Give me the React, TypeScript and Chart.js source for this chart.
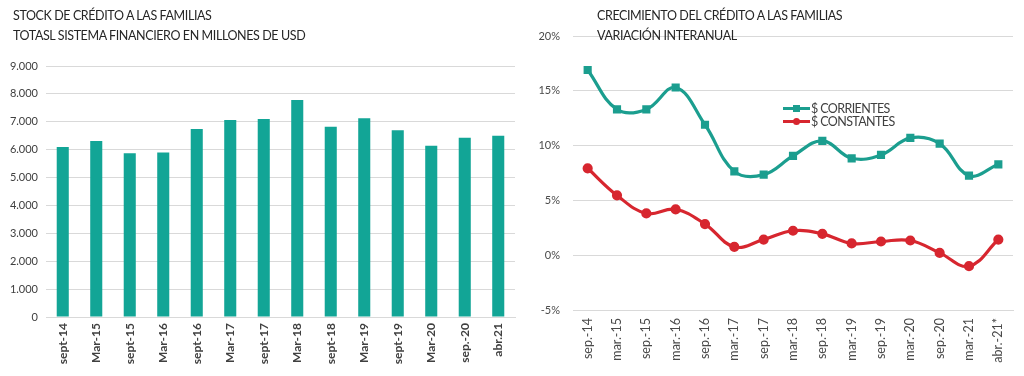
import React, { useEffect, useRef } from "react";
import { Chart, registerables } from "chart.js";

Chart.register(...registerables);

const stockLabels = ["sept-14", "Mar-15", "sept-15", "Mar-16", "sept-16", "Mar-17", "sept-17", "Mar-18", "sept-18", "Mar-19", "sept-19", "Mar-20", "sep.-20", "abr.21"];
const stockValues = [6100, 6310, 5870, 5900, 6740, 7060, 7100, 7780, 6820, 7130, 6700, 6140, 6430, 6500];

const growthLabels = ["sep.-14", "mar.-15", "sep.-15", "mar.-16", "sep.-16", "mar.-17", "sep.-17", "mar.-18", "sep.-18", "mar.-19", "sep.-19", "mar.-20", "sep.-20", "mar.-21", "abr.-21*"];
const corrientes = [16.9, 13.3, 13.3, 15.3, 11.9, 7.65, 7.35, 9.06, 10.43, 8.84, 9.15, 10.7, 10.18, 7.26, 8.29];
const constantes = [7.93, 5.46, 3.81, 4.18, 2.84, 0.76, 1.43, 2.23, 1.95, 1.07, 1.25, 1.34, 0.21, -1.0, 1.43];

const leftTitle = ["STOCK DE CRÉDITO A LAS FAMILIAS", "TOTASL SISTEMA FINANCIERO EN MILLONES DE USD"];
const rightTitle = ["CRECIMIENTO DEL CRÉDITO A LAS FAMILIAS", "VARIACIÓN INTERANUAL"];
const legendNames = ["$ CORRIENTES", "$ CONSTANTES"];

const TEAL_BAR = "#12a596";
const TEAL = "#1b9e8f";
const RED = "#d7262f";
const GRID = "#d9d9d9";
const FONT = "Lato, 'Open Sans', sans-serif";

function fmtThousands(v: number) {
  return String(v).replace(/\B(?=(\d{3})+(?!\d))/g, ".");
}

export default function App() {
  const leftRef = useRef<HTMLCanvasElement>(null);
  const rightRef = useRef<HTMLCanvasElement>(null);

  useEffect(() => {
    const left = new Chart(leftRef.current!, {
      type: "bar",
      data: {
        labels: stockLabels,
        datasets: [
          {
            data: stockValues,
            backgroundColor: TEAL_BAR,
            barPercentage: 0.36,
            categoryPercentage: 1,
          },
        ],
      },
      options: {
        responsive: false,
        animation: false,
        layout: { padding: { left: 0, right: 5, top: 66, bottom: 0 } },
        plugins: { legend: { display: false }, tooltip: { enabled: false } },
        scales: {
          x: {
            grid: { display: false, drawTicks: false },
            border: { display: true, color: GRID, width: 1 },
            ticks: {
              minRotation: 90,
              maxRotation: 90,
              padding: 6,
              color: "#404040",
              font: { family: FONT, size: 12, weight: "bold" },
            },
            afterFit: (axis: any) => {
              axis.height = 59;
            },
          },
          y: {
            min: 0,
            max: 9000,
            grid: { color: GRID, drawTicks: false },
            border: { display: false },
            ticks: {
              stepSize: 1000,
              padding: 8,
              color: "#404040",
              font: { family: FONT, size: 11 },
              callback: (v: any) => fmtThousands(Number(v)),
            },
            afterFit: (axis: any) => {
              axis.width = 46;
            },
          },
        },
      },
    });

    const right = new Chart(rightRef.current!, {
      type: "line",
      data: {
        labels: growthLabels,
        datasets: [
          {
            label: legendNames[0],
            data: corrientes,
            borderColor: TEAL,
            backgroundColor: TEAL,
            borderWidth: 3.2,
            tension: 0.4,
            pointStyle: "rect",
            pointRadius: 3.5,
          },
          {
            label: legendNames[1],
            data: constantes,
            borderColor: RED,
            backgroundColor: RED,
            borderWidth: 3.2,
            tension: 0.4,
            pointStyle: "circle",
            pointRadius: 3.5,
          },
        ],
      },
      options: {
        responsive: false,
        animation: false,
        layout: { padding: { left: 0, right: 11, top: 36, bottom: 0 } },
        plugins: { legend: { display: false }, tooltip: { enabled: false } },
        scales: {
          x: {
            offset: true,
            grid: { display: false, drawTicks: false },
            border: { display: true, color: GRID, width: 1 },
            ticks: {
              minRotation: 90,
              maxRotation: 90,
              padding: 8,
              color: "#4a4a4a",
              font: { family: FONT, size: 12.5 },
            },
            afterFit: (axis: any) => {
              axis.height = 66;
            },
          },
          y: {
            min: -5,
            max: 20,
            grid: { color: GRID, drawTicks: false },
            border: { display: false },
            ticks: {
              stepSize: 5,
              padding: 13,
              color: "#4a4a4a",
              font: { family: FONT, size: 11 },
              callback: (v: any) => `${v}%`,
            },
            afterFit: (axis: any) => {
              axis.width = 53;
            },
          },
        },
      },
    });

    return () => {
      left.destroy();
      right.destroy();
    };
  }, []);

  const titleStyle: React.CSSProperties = {
    position: "absolute",
    fontFamily: FONT,
    fontSize: 12.5,
    color: "#262626",
    lineHeight: "20px",
    whiteSpace: "nowrap",
    letterSpacing: "-0.4px",
  };

  const legendRow = (name: string, color: string, square: boolean, top: number) => (
    <div style={{ position: "absolute", left: 783, top, height: 12, display: "flex", alignItems: "center" }}>
      <div style={{ position: "relative", width: 27, height: 12 }}>
        <div style={{ position: "absolute", left: 0, top: 5, width: 27, height: 3, background: color }} />
        <div
          style={{
            position: "absolute",
            left: 10,
            top: 3,
            width: 7,
            height: 7,
            background: color,
            borderRadius: square ? 0 : "50%",
          }}
        />
      </div>
      <span style={{ fontFamily: FONT, fontSize: 12.5, color: "#404040", marginLeft: 1, letterSpacing: "-0.6px" }}>{name}</span>
    </div>
  );

  return (
    <div style={{ position: "fixed", left: 0, top: 0, width: 1024, height: 376, background: "#fff", overflow: "hidden" }}>
      <canvas ref={leftRef} width={520} height={376} style={{ position: "absolute", left: 0, top: 0 }} />
      <canvas ref={rightRef} width={504} height={376} style={{ position: "absolute", left: 520, top: 0 }} />
      <div style={{ ...titleStyle, left: 13, top: 6 }}>
        {leftTitle[0]}
        <br />
        {leftTitle[1]}
      </div>
      <div style={{ ...titleStyle, left: 597, top: 6 }}>
        {rightTitle[0]}
        <br />
        {rightTitle[1]}
      </div>
      {legendRow(legendNames[0], TEAL, true, 102)}
      {legendRow(legendNames[1], RED, false, 115)}
    </div>
  );
}
